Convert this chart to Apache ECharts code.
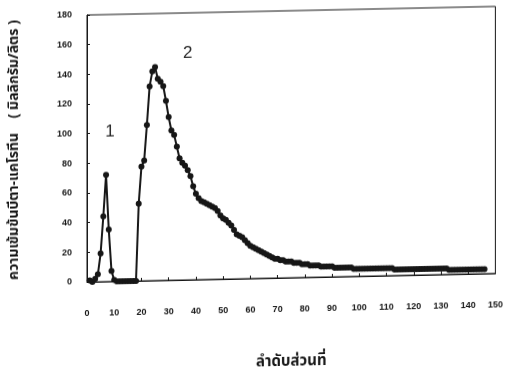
<!DOCTYPE html>
<html>
<head>
<meta charset="utf-8">
<script src="https://cdn.jsdelivr.net/npm/echarts@6/dist/echarts.min.js"></script>
<style>
  html, body { margin: 0; padding: 0; background: #fff; }
  #chart {
    width: 506px; height: 379px;
    /* the printed page sits slightly askew */
    transform-origin: 87px 283px;
    transform: skewY(-1.2deg);
  }
</style>
</head>
<body>
<div id="chart"></div>
<script>
// Fraction number (x) and beta-carotene concentration, mg/L (y)
const fractions = [
  1, 2, 3, 4, 5, 6, 7, 8, 9, 10,
  11, 12, 13, 14, 15, 16, 17, 18, 19, 20,
  21, 22, 23, 24, 25, 26, 27, 28, 29, 30,
  31, 32, 33, 34, 35, 36, 37, 38, 39, 40,
  41, 42, 43, 44, 45, 46, 47, 48, 49, 50,
  51, 52, 53, 54, 55, 56, 57, 58, 59, 60,
  61, 62, 63, 64, 65, 66, 67, 68, 69, 70,
  71, 72, 73, 74, 75, 76, 77, 78, 79, 80,
  81, 82, 83, 84, 85, 86, 87, 88, 89, 90,
  91, 92, 93, 94, 95, 96, 97, 98, 99, 100,
  101, 102, 103, 104, 105, 106, 107, 108, 109, 110,
  111, 112, 113, 114, 115, 116, 117, 118, 119, 120,
  121, 122, 123, 124, 125, 126, 127, 128, 129, 130,
  131, 132, 133, 134, 135, 136, 137, 138, 139, 140,
  141, 142, 143, 144, 145, 146
];
const concentration = [
  1, 0, 2, 5, 19, 44, 72, 35, 7, 1,
  0, 0, 0, 0, 0, 0, 0, 0, 52, 77,
  81, 105, 131, 141, 144, 136, 134, 131, 121, 110,
  101, 98, 90, 82, 79, 77, 74, 70, 63, 58,
  55, 53, 52, 51, 50, 49, 48, 46, 43, 41,
  40, 38, 36, 33, 30, 29, 28, 26, 24, 22,
  21, 20, 19, 18, 17, 16, 15, 14, 13, 13,
  12, 12, 11, 11, 11, 10, 10, 10, 9, 9,
  9, 8, 8, 8, 8, 7, 7, 7, 7, 7,
  6, 6, 6, 6, 6, 6, 6, 5, 5, 5,
  5, 5, 5, 5, 5, 5, 5, 5, 5, 5,
  5, 5, 4, 4, 4, 4, 4, 4, 4, 4,
  4, 4, 4, 4, 4, 4, 4, 4, 4, 4,
  4, 4, 3, 3, 3, 3, 3, 3, 3, 3,
  3, 3, 3, 3, 3, 3
];
// Peak numbers written beside the two bands: [label, fraction, concentration]
const peakNotes = [
  ['1', 8.4, 101],
  ['2', 37, 153]
];

const xTitle = 'ลำดับส่วนที่';
const yTitle = 'ความเข้มข้นบีตา-แคโรทีน    ( มิลลิกรัม/ลิตร )';

const thaiFont = 'Noto Sans Thai, Loma, Garuda, Norasi, Tlwg Typist, sans-serif';
const tickFont = 'Liberation Sans Narrow, Arial Narrow, Liberation Sans, sans-serif';
const ink = '#161616';

const chart = echarts.init(document.getElementById('chart'), null, { renderer: 'canvas' });
chart.setOption({
  animation: false,
  backgroundColor: '#fff',
  grid: {
    left: 87, right: 9, top: 15, bottom: 96,
    show: true, borderColor: ink, borderWidth: 1, backgroundColor: 'transparent'
  },
  xAxis: {
    type: 'value', min: 0, max: 150, interval: 10,
    name: xTitle, nameLocation: 'middle', nameGap: 77,
    nameTextStyle: { fontFamily: thaiFont, fontWeight: 'bold', fontSize: 15, color: ink },
    axisLine: { show: true, lineStyle: { color: ink, width: 1 } },
    axisTick: { show: true, inside: true, length: 3, lineStyle: { color: ink } },
    axisLabel: { margin: 27, fontFamily: tickFont, fontWeight: 'bold', fontSize: 9, color: ink },
    splitLine: { show: false }
  },
  yAxis: {
    type: 'value', min: 0, max: 180, interval: 20,
    name: yTitle, nameLocation: 'middle', nameGap: 65, nameRotate: 90,
    nameTextStyle: { fontFamily: thaiFont, fontWeight: 'bold', fontSize: 14, color: ink },
    axisLine: { show: true, lineStyle: { color: ink, width: 1 } },
    axisTick: { show: true, inside: true, length: 3, lineStyle: { color: ink } },
    axisLabel: { margin: 15, fontFamily: tickFont, fontWeight: 'bold', fontSize: 9, color: ink },
    splitLine: { show: false }
  },
  series: [{
    type: 'line',
    data: fractions.map((f, i) => [f, concentration[i]]),
    symbol: 'circle',
    symbolSize: 6,
    itemStyle: { color: ink },
    lineStyle: { color: ink, width: 2 },
    markPoint: {
      symbol: 'circle', symbolSize: 0,
      label: {
        show: true, position: 'inside',
        formatter: p => p.name,
        fontFamily: 'Liberation Sans, sans-serif', fontSize: 17, color: '#2a2a2a'
      },
      data: peakNotes.map(n => ({ name: n[0], coord: [n[1], n[2]] }))
    }
  }]
});
</script>
</body>
</html>
